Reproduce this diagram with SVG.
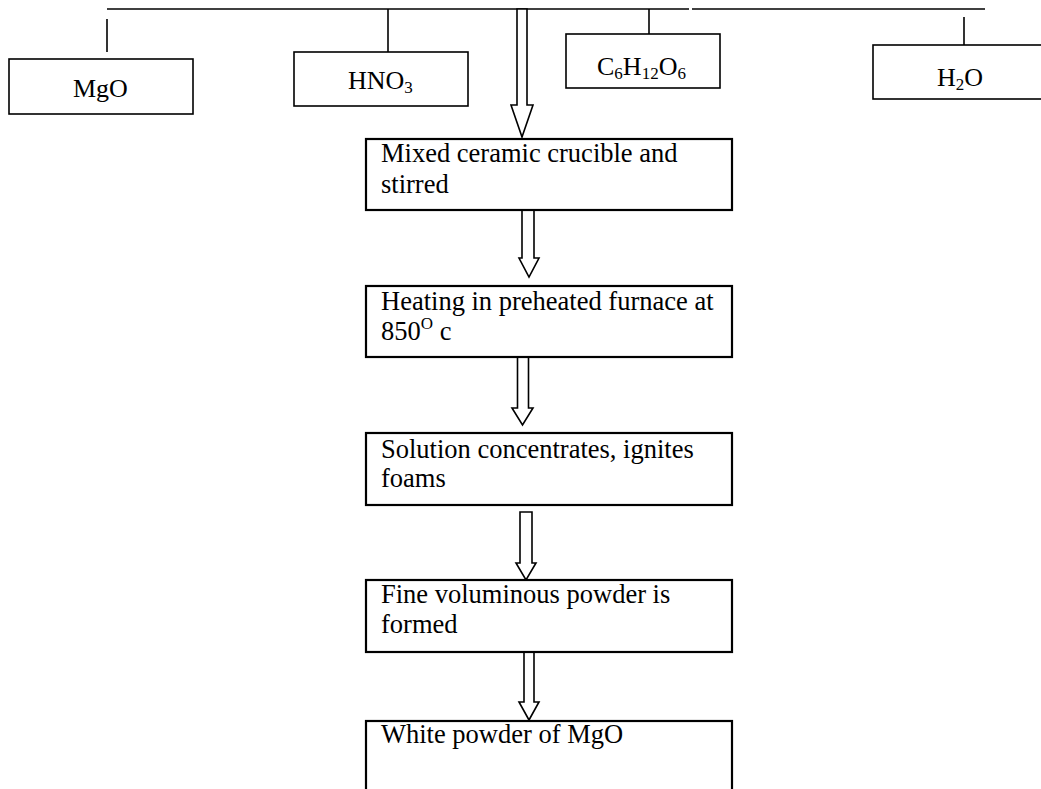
<svg xmlns="http://www.w3.org/2000/svg" width="1041" height="789" viewBox="0 0 1041 789">
<style>
  .box { fill: #fff; stroke: #000; stroke-width: 2.2; }
  .tbox { fill: #fff; stroke: #000; stroke-width: 1.6; }
  .ln { stroke: #000; stroke-width: 1.6; fill: none; }
  .arr { fill: #fff; stroke: #000; stroke-width: 1.6; stroke-linejoin: miter; }
  text { font-family: "Liberation Serif", "Times New Roman", serif; font-size: 26px; fill: #000; }
  .body { font-size: 26.5px; }
  .sub { font-size: 17px; }
</style>
<rect width="1041" height="789" fill="#fff"/>
<g id="connectors">
  <line class="ln" x1="107" y1="9" x2="689" y2="9"/>
  <line class="ln" x1="692" y1="9" x2="985" y2="9"/>
  <line class="ln" x1="107" y1="19" x2="107" y2="52"/>
  <line class="ln" x1="388" y1="9" x2="388" y2="52"/>
  <line class="ln" x1="649" y1="9" x2="649" y2="34"/>
  <line class="ln" x1="964" y1="17" x2="964" y2="45"/>
  <polygon class="arr" points="517,9 527,9 527,105 533,105 522,137 511,105 517,105"/>
  <polygon class="arr" points="522,209 534,209 534,258 539,258 529,277 519,258 522,258"/>
  <polygon class="arr" points="517.5,357 528.5,357 528.5,408 533,408 522.5,425 512,408 517.5,408"/>
  <polygon class="arr" points="520,512 532,512 532,563 536,563 526,580 516,563 520,563"/>
  <polygon class="arr" points="524,652 534,652 534,702 539,702 529,720 519,702 524,702"/>
</g>
<g id="mgo">
  <rect class="tbox" x="9" y="59" width="184" height="55"/>
  <text x="73" y="97">MgO</text>
</g>
<g id="hno3">
  <rect class="tbox" x="294" y="52" width="174" height="54"/>
  <text x="348" y="89">HNO<tspan class="sub" dy="4">3</tspan></text>
</g>
<g id="glucose">
  <rect class="tbox" x="566" y="34" width="154" height="54"/>
  <text x="597" y="75">C<tspan class="sub" dy="4">6</tspan><tspan dy="-4">H</tspan><tspan class="sub" dy="4">12</tspan><tspan dy="-4">O</tspan><tspan class="sub" dy="4">6</tspan></text>
</g>
<g id="h2o">
  <rect class="tbox" x="873" y="45" width="180" height="54"/>
  <text x="937" y="86">H<tspan class="sub" dy="4">2</tspan><tspan dy="-4">O</tspan></text>
</g>
<g id="mixed">
  <rect class="box" x="366" y="139" width="366" height="71"/>
  <text class="body" x="381" y="162">Mixed ceramic crucible and</text>
  <text class="body" x="381" y="193">stirred</text>
</g>
<g id="heating">
  <rect class="box" x="366" y="286" width="366" height="71"/>
  <text class="body" x="381" y="310">Heating in preheated furnace at</text>
  <text class="body" x="381" y="340">850<tspan class="sub" dy="-11">O</tspan><tspan dy="11"> c</tspan></text>
</g>
<g id="solution">
  <rect class="box" x="366" y="433" width="366" height="72"/>
  <text class="body" x="381" y="458">Solution concentrates, ignites</text>
  <text class="body" x="381" y="487">foams</text>
</g>
<g id="fine">
  <rect class="box" x="366" y="580" width="366" height="72"/>
  <text class="body" x="381" y="603">Fine voluminous powder is</text>
  <text class="body" x="381" y="633">formed</text>
</g>
<g id="white">
  <rect class="box" x="366" y="721" width="366" height="90"/>
  <text class="body" x="381" y="743">White powder of MgO</text>
</g>
</svg>
